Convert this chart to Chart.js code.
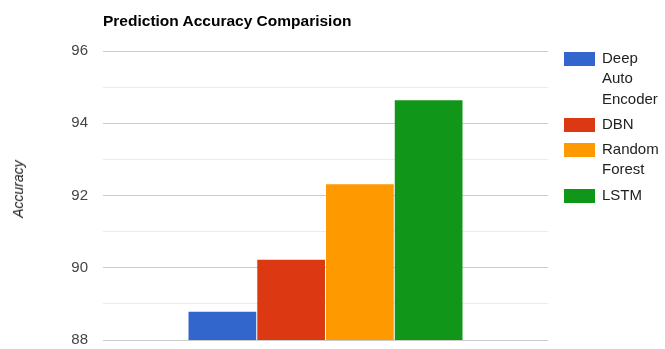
<!DOCTYPE html>
<html>
<head>
<meta charset="utf-8">
<script src="https://cdn.jsdelivr.net/npm/chart.js@4/dist/chart.umd.min.js"></script>
<style>
  html, body { margin: 0; padding: 0; background: #fff; }
  #wrap { position: relative; width: 665px; height: 349px; font-family: "Liberation Sans", Arial, sans-serif; overflow: hidden; }
  #chart { position: absolute; left: 0; top: 0; }
  #title { position: absolute; left: 103px; top: 12px; font-size: 15.5px; font-weight: bold; color: #000; white-space: nowrap; }
  #ytitle { position: absolute; left: 18px; top: 189px; font-size: 14px; font-style: italic; color: #222;
            white-space: nowrap; transform: translate(-50%, -50%) rotate(-90deg); }
  #legend { position: absolute; left: 564px; top: 48px; font-size: 15px; color: #222; }
  .item { display: flex; align-items: flex-start; margin-bottom: 5px; }
  .swatch { width: 31px; height: 14px; margin-top: 4px; margin-right: 7px; flex: none; }
  .label { width: 62px; line-height: 20.3px; }
</style>
</head>
<body>
<div id="wrap">
  <canvas id="chart" width="665" height="349"></canvas>
  <div id="title">Prediction Accuracy Comparision</div>
  <div id="ytitle">Accuracy</div>
  <div id="legend"></div>
</div>
<script>
// Models compared and their prediction accuracy (%)
const models = ['Deep Auto Encoder', 'DBN', 'Random Forest', 'LSTM'];
const accuracy = [88.78, 90.22, 92.31, 94.64];
const colors = ['#3366cc', '#dc3912', '#ff9900', '#109618'];
const yTicks = [88, 90, 92, 94, 96];

const FONT = '"Liberation Sans", Arial, sans-serif';

const datasets = models.map((name, i) => ({
  label: name,
  data: [accuracy[i]],
  backgroundColor: colors[i],
  borderWidth: 0,
  categoryPercentage: 0.618,
  barPercentage: 0.985
}));

const chart = new Chart(document.getElementById('chart'), {
  type: 'bar',
  data: { labels: [''], datasets },
  options: {
    responsive: false,
    animation: false,
    layout: { padding: { top: 51, right: 117, bottom: 9, left: 0 } },
    plugins: {
      legend: { display: false },
      title: { display: false },
      tooltip: { enabled: false }
    },
    scales: {
      x: { display: false },
      y: {
        min: 88,
        max: 96,
        afterFit(scale) {
          scale.width = 103;
          // tick labels may overflow the plot area; no extra room needed
          scale.paddingTop = 0;
          scale.paddingBottom = 0;
        },
        afterBuildTicks(scale) {
          scale.ticks = [];
          for (let v = 88; v <= 96; v++) scale.ticks.push({ value: v });
        },
        border: { display: false },
        grid: {
          drawTicks: false,
          color: ctx => (ctx.tick && yTicks.includes(ctx.tick.value)) ? '#cccccc' : '#ebebeb',
          lineWidth: 1
        },
        ticks: {
          padding: 15,
          color: '#444',
          font: { family: FONT, size: 15 },
          callback: v => yTicks.includes(v) ? String(v) : ''
        }
      }
    }
  }
});

// Legend built from the chart's datasets
const legend = document.getElementById('legend');
chart.data.datasets.forEach(ds => {
  const item = document.createElement('div');
  item.className = 'item';
  const sw = document.createElement('div');
  sw.className = 'swatch';
  sw.style.background = ds.backgroundColor;
  const lb = document.createElement('div');
  lb.className = 'label';
  lb.textContent = ds.label;
  item.appendChild(sw);
  item.appendChild(lb);
  legend.appendChild(item);
});
</script>
</body>
</html>
